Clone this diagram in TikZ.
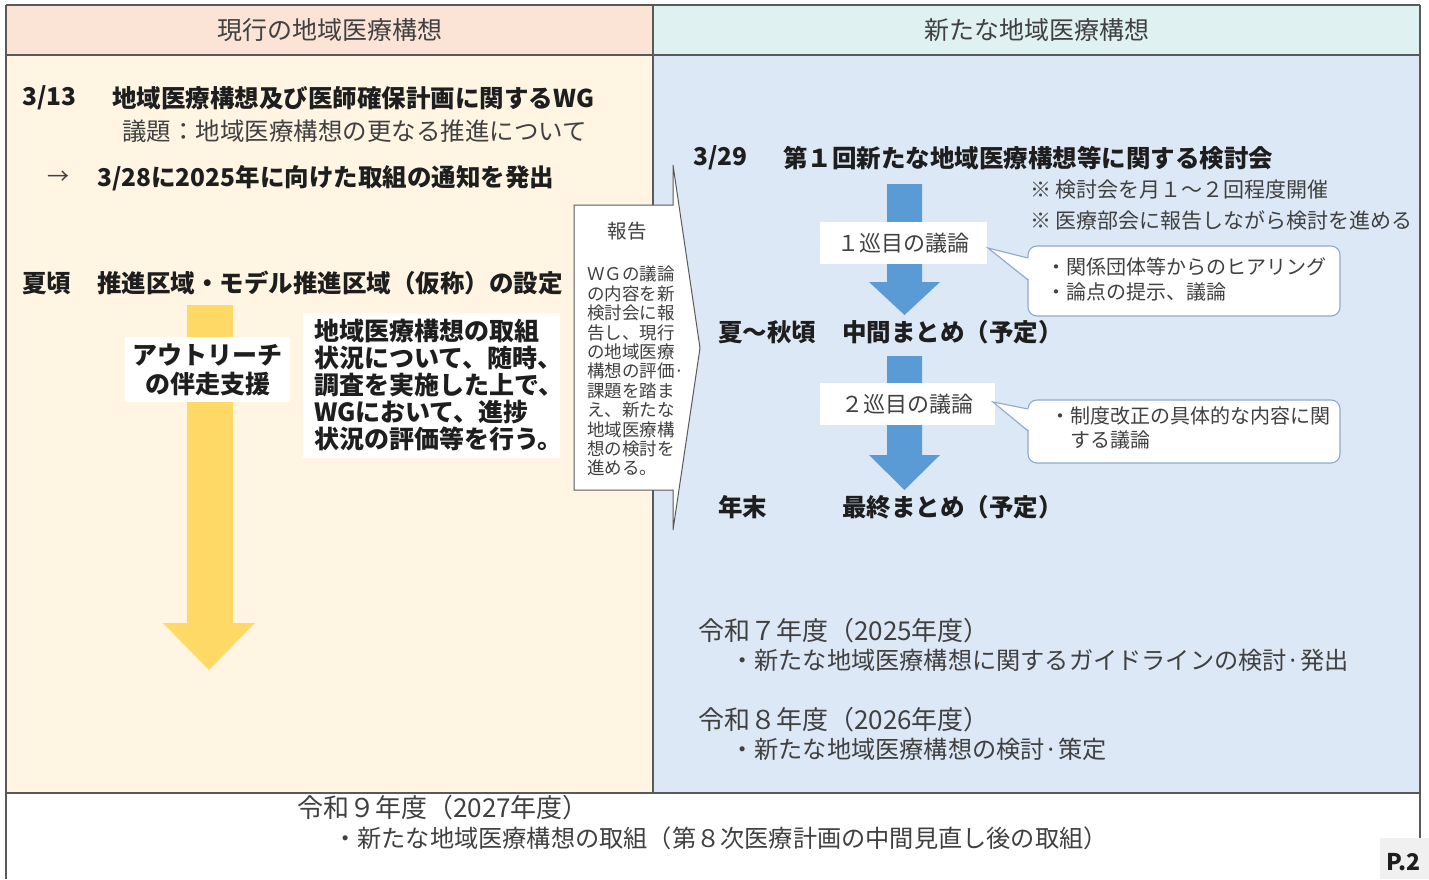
\documentclass[tikz,border=0pt]{standalone}
\usepackage{fontspec}
\setmainfont{Noto Sans CJK JP}
\definecolor{hdrL}{HTML}{FBE3D6}
\definecolor{hdrR}{HTML}{E0F1F1}
\definecolor{bodyL}{HTML}{FFF5E2}
\definecolor{bodyR}{HTML}{DDE8F6}
\definecolor{frame}{HTML}{595959}
\definecolor{yarrow}{HTML}{FFD966}
\definecolor{barrow}{HTML}{5B9BD5}
\definecolor{bubline}{HTML}{8FAACB}
\definecolor{ink}{HTML}{1E1E1E}
\definecolor{greyink}{HTML}{404040}
\definecolor{pgbox}{HTML}{F0F0F0}
\newcommand{\fs}[2]{\fontsize{#1}{#2}\selectfont}
\tikzset{
  txt/.style={anchor=west, inner sep=0pt, text=ink},
  btxt/.style={txt, font=\bfseries\fs{24.5}{29}},
  ntxt/.style={txt, text=greyink, font=\fs{24.5}{28}},
  yeartxt/.style={txt, text=greyink, font=\fs{26}{30}},
  bullettxt/.style={txt, text=greyink, font=\fs{24.2}{28}},
  notetxt/.style={txt, text=greyink, font=\fs{21}{25}},
  whitebox/.style={fill=white, inner sep=0pt, text=ink},
  bubble/.style={fill=white, draw=bubline, line width=1.1pt, rounded corners=9pt},
  frameline/.style={draw=frame, line width=1.4pt},
}
\begin{document}
\begin{tikzpicture}[x=1pt,y=-1pt]
\useasboundingbox (0,0) rectangle (1429,879);
\begin{scope}
\clip (0,0) rectangle (1429,879);
% backgrounds
\fill[hdrL] (6,5) rectangle (653,55);
\fill[hdrR] (653,5) rectangle (1420,55);
\fill[bodyL] (6,55) rectangle (653,793);
\fill[bodyR] (653,55) rectangle (1420,793);
\fill[white] (6,793) rectangle (1420,879);
% frame lines
\draw[frameline] (6,5) -- (1420,5);
\draw[frameline] (6,55) -- (1420,55);
\draw[frameline] (6,793) -- (1420,793);
\draw[frameline] (653,5) -- (653,793);
\draw[frameline] (6,5) -- (6,879);
\draw[frameline] (1420,5) -- (1420,838);
% page box
\fill[pgbox] (1380,838) rectangle (1429,879);
\node[txt, font=\bfseries\fs{23}{27}] (pg) at (1386,862) {P.2};

% headers
\node[inner sep=0pt, text=greyink, font=\fs{25}{29}] (hL) at (330,30) {現行の地域医療構想};
\node[inner sep=0pt, text=greyink, font=\fs{25}{29}] (hR) at (1037,30) {新たな地域医療構想};

% left column texts
\node[btxt] (d313) at (22,98) {3/13};
\node[btxt] (wg) at (112,98) {地域医療構想及び医師確保計画に関するWG};
\node[ntxt] (gidai) at (122,131) {議題：地域医療構想の更なる推進について};
\node[txt, text=greyink, font=\fs{22}{26}] (arr) at (47,178) {→};
\node[btxt] (tsuchi) at (97,178) {3/28に2025年に向けた取組の通知を発出};
\node[btxt] (natsu) at (22,283) {夏頃};
\node[btxt] (suishin) at (97,283) {推進区域・モデル推進区域（仮称）の設定};

% yellow arrow
\fill[yarrow] (187,305) -- (233,305) -- (233,623) -- (255,623) -- (209,670) -- (163,623) -- (187,623) -- cycle;
\node[whitebox, minimum width=165pt, minimum height=65pt, align=center, font=\bfseries\fs{25}{29}] (outreach) at (207.5,369.5) {アウトリーチ\\の伴走支援};
\node[whitebox, inner xsep=11pt, text width=235pt, minimum height=145pt, align=left, font=\bfseries\fs{25}{27}] (torikumi) at (431.5,385.5) {地域医療構想の取組\\状況について、随時、\\調査を実施した上で、\\WGにおいて、進捗\\状況の評価等を行う。};

% report callout arrow
\draw[fill=white, draw=frame, line width=1pt] (574,205) -- (673,205) -- (673,165) -- (700,348) -- (673,530) -- (673,490) -- (574,490) -- cycle;
\fill[white] (652,207) rectangle (674,488);
\node[inner sep=0pt, text=greyink, font=\fs{19.5}{22}] (hokoku) at (627,231) {報告};
\node[anchor=north west, inner sep=0pt, text=greyink, align=left, font=\fs{17.5}{19.4}] (hokokutxt) at (587,266) {ＷＧの議論\\の内容を新\\検討会に報\\告し、現行\\の地域医療\\構想の評価·\\課題を踏ま\\え、新たな\\地域医療構\\想の検討を\\進める。};

% right column texts
\node[btxt] (d329) at (693,158) {3/29};
\node[btxt] (kentokai) at (783,158) {第１回新たな地域医療構想等に関する検討会};
\node[notetxt] (note1) at (1030,190) {※ 検討会を月１～２回程度開催};
\node[notetxt] (note2) at (1030,221) {※ 医療部会に報告しながら検討を進める};

% blue arrow 1
\fill[barrow] (887,184) -- (922,184) -- (922,282) -- (940,282) -- (904.5,315) -- (869,282) -- (887,282) -- cycle;
\node[whitebox, minimum width=167pt, minimum height=42pt, text=greyink, font=\fs{22}{25}] (r1) at (903.5,243) {１巡目の議論};
% bubble 1
\draw[bubble] (1028,246) rectangle (1340,316);
\fill[white] (988,248) -- (1030,258) -- (1030,280) -- cycle;
\draw[draw=bubline, line width=1.1pt] (1028,258) -- (988,248) -- (1028,280);
\node[anchor=north west, inner sep=0pt, text=greyink, align=left, font=\fs{20}{25}] (b1txt) at (1046,257) {・関係団体等からのヒアリング\\・論点の提示、議論};

\node[btxt] (natsuaki) at (718,332) {夏～秋頃};
\node[btxt] (chukan) at (842,332) {中間まとめ（予定）};

% blue arrow 2
\fill[barrow] (887,356) -- (922,356) -- (922,455) -- (940,455) -- (904.5,490) -- (869,455) -- (887,455) -- cycle;
\node[whitebox, minimum width=175pt, minimum height=42pt, text=greyink, font=\fs{22}{25}] (r2) at (907.5,404) {２巡目の議論};
% bubble 2
\draw[bubble] (1028,400) rectangle (1340,463);
\fill[white] (993,402) -- (1030,409) -- (1030,431) -- cycle;
\draw[draw=bubline, line width=1.1pt] (1028,409) -- (993,402) -- (1028,431);
\node[anchor=north west, inner sep=0pt, text=greyink, align=left, font=\fs{20}{24}] (b2txt) at (1050,406) {・制度改正の具体的な内容に関\\\hspace*{1em}する議論};

\node[btxt] (nenmatsu) at (718,507) {年末};
\node[btxt] (saishu) at (842,507) {最終まとめ（予定）};

% year texts
\node[yeartxt] (r7) at (698,631) {令和７年度（2025年度）};
\node[bullettxt] (r7b) at (730,660) {・新たな地域医療構想に関するガイドラインの検討·発出};
\node[yeartxt] (r8) at (698,720) {令和８年度（2026年度）};
\node[bullettxt] (r8b) at (730,749) {・新たな地域医療構想の検討·策定};
\node[yeartxt] (r9) at (297,808) {令和９年度（2027年度）};
\node[bullettxt] (r9b) at (333,838) {・新たな地域医療構想の取組（第８次医療計画の中間見直し後の取組）};
\end{scope}
\end{tikzpicture}
\end{document}
